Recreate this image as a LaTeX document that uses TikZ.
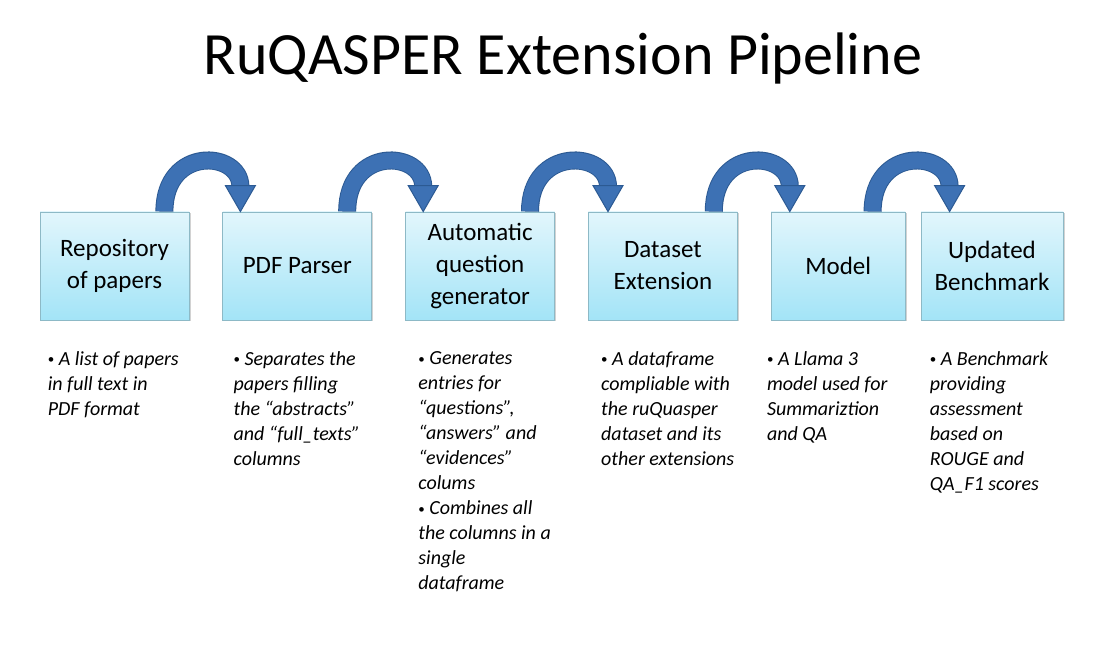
\documentclass[tikz,border=0pt]{standalone}
\usepackage{fontspec}
\setmainfont{Carlito}
\usepackage{tikz}
\usetikzlibrary{positioning,calc,shadows}
\definecolor{boxtop}{HTML}{E2F6FC}
\definecolor{boxbot}{HTML}{A3E4F7}
\definecolor{boxedge}{HTML}{8DB9C6}
\definecolor{hopfill}{HTML}{3D71B4}
\definecolor{hopedge}{HTML}{2C5A93}
\newcommand{\dotitem}{{\upshape\fontsize{13}{13}\selectfont\raisebox{1.5pt}{•}}\ }

\begin{document}
\begin{tikzpicture}[
  box/.style={draw=boxedge, line width=0.8pt, top color=boxtop, bottom color=boxbot, minimum width=149pt, minimum height=108pt, inner sep=2pt, align=center, font=\fontsize{25}{32}\selectfont, drop shadow={shadow xshift=1.5pt, shadow yshift=-1.5pt, opacity=0.35}},
  desc/.style={align=left, inner sep=0pt, font=\fontsize{20}{25}\selectfont\itshape},
  hopline/.style={line width=18pt, draw=hopedge},
  hopbody/.style={line width=16pt, draw=hopfill},
  hophead/.style={fill=hopfill, draw=hopedge, line width=1pt, line join=miter}
]
\useasboundingbox[fill=white] (0,0) rectangle (1098pt,660pt);
\node[anchor=base, font=\fontsize{60}{72}\selectfont] (title) at (563pt,585pt) {RuQASPER Extension Pipeline};

\node[box] (repo) at (114.5pt,394pt) {Repository\\of papers};
\node[box, right=33pt of repo] (parser) {PDF Parser};
\node[box, right=33pt of parser] (qgen) {Automatic\\question\\generator};
\node[box, right=33pt of qgen] (dext) {Dataset\\Extension};
\node[box, right=33pt of dext, minimum width=134pt] (model) {Model};
\node[box, right=15pt of model, minimum width=142pt] (bench) {Updated\\Benchmark};

\node[desc, below right=31pt and 8pt of repo.south west] (repotxt) {\dotitem A list of papers\\in full text in\\PDF format};
\node[desc, below right=31pt and 11pt of parser.south west] (parsertxt) {\dotitem Separates the\\papers filling\\the “abstracts”\\and “full\_texts”\\columns};
\node[desc, below right=31pt and 13pt of qgen.south west] (qgentxt) {\dotitem Generates\\entries for\\“questions”,\\“answers” and\\“evidences”\\colums\\\dotitem Combines all\\the columns in a\\single\\dataframe};
\node[desc, below right=31pt and 13pt of dext.south west] (dexttxt) {\dotitem A dataframe\\compliable with\\the ruQuasper\\dataset and its\\other extensions};
\node[desc, below right=31pt and -4pt of model.south west] (modeltxt) {\dotitem A Llama 3\\model used for\\Summariztion\\and QA};
\node[desc, below right=31pt and 9pt of bench.south west] (benchtxt) {\dotitem A Benchmark\\providing\\assessment\\based on\\ROUGE and\\QA\_F1 scores};

\foreach \a/\b/\s/\e in {repo/parser/25pt/18pt, parser/qgen/25pt/18pt, qgen/dext/25pt/20pt, dext/model/24pt/19pt, model/bench/33pt/29pt} {
  \coordinate (hs) at ($(\a.north east)+(-\s,0)$);
  \coordinate (he) at ($(\b.north west)+(\e,0)$);
  \draw[hopline] (hs) .. controls +(0,66pt) and +(0,36pt) .. ($(he)+(0,25pt)$);
  \draw[hopbody] ($(hs)+(0,0.5pt)$) .. controls +(0,65pt) and +(0,36pt) .. ($(he)+(0,25pt)$);
  \draw[hophead] ($(he)+(-15pt,26pt)$) -- (he) -- ($(he)+(15pt,26pt)$) -- cycle;
}
\end{tikzpicture}
\end{document}
